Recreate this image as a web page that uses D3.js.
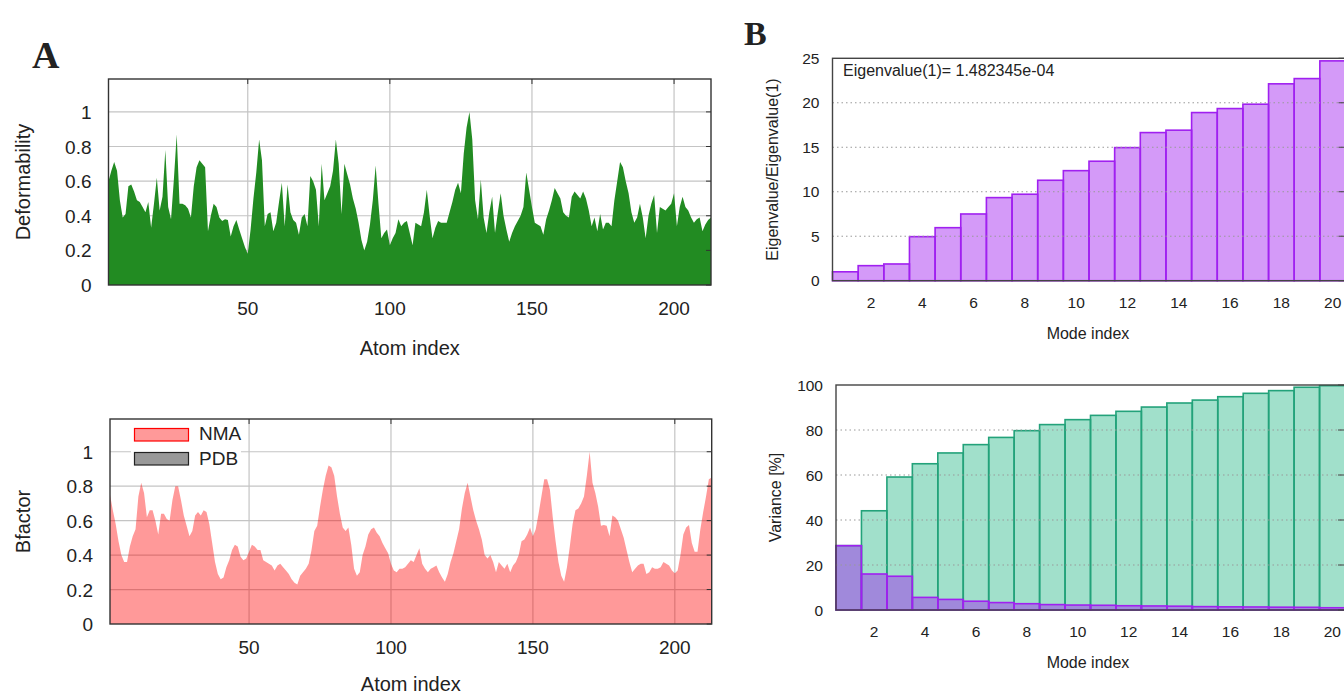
<!DOCTYPE html>
<html>
<head>
<meta charset="utf-8">
<script src="https://cdn.jsdelivr.net/npm/d3@7"></script>
<style>
body { margin: 0; background: #fff; }
svg text { font-family: "Liberation Sans", Arial, sans-serif; fill: #222; }
</style>
</head>
<body>
<svg id="chart" width="1344" height="696"></svg>
<script>
// ---- panel A data (one value per atom, index 1..213)
var deformability = [
  0.60, 0.66, 0.71, 0.66, 0.49, 0.39, 0.41, 0.57, 0.58, 0.54,
  0.49, 0.48, 0.45, 0.42, 0.48, 0.33, 0.47, 0.62, 0.43, 0.51,
  0.78, 0.45, 0.38, 0.61, 0.87, 0.47, 0.47, 0.46, 0.44, 0.39,
  0.57, 0.68, 0.72, 0.70, 0.68, 0.31, 0.40, 0.47, 0.45, 0.39,
  0.37, 0.38, 0.375, 0.28, 0.34, 0.375, 0.32, 0.27, 0.22, 0.18,
  0.32, 0.50, 0.65, 0.84, 0.72, 0.34, 0.41, 0.42, 0.31, 0.36,
  0.48, 0.59, 0.34, 0.58, 0.42, 0.375, 0.36, 0.29, 0.39, 0.41,
  0.34, 0.63, 0.60, 0.55, 0.34, 0.70, 0.49, 0.53, 0.57, 0.66,
  0.84, 0.70, 0.41, 0.70, 0.64, 0.58, 0.50, 0.44, 0.36, 0.26,
  0.20, 0.25, 0.35, 0.49, 0.69, 0.47, 0.27, 0.30, 0.32, 0.23,
  0.27, 0.30, 0.38, 0.34, 0.36, 0.37, 0.30, 0.23, 0.36, 0.35,
  0.34, 0.42, 0.55, 0.40, 0.27, 0.33, 0.37, 0.36, 0.36, 0.36,
  0.42, 0.48, 0.55, 0.59, 0.53, 0.76, 0.91, 1.00, 0.84, 0.49,
  0.38, 0.61, 0.39, 0.30, 0.42, 0.51, 0.30, 0.42, 0.53, 0.40,
  0.32, 0.25, 0.30, 0.34, 0.37, 0.40, 0.45, 0.65, 0.55, 0.45,
  0.36, 0.35, 0.34, 0.29, 0.38, 0.43, 0.49, 0.56, 0.53, 0.50,
  0.42, 0.40, 0.39, 0.51, 0.54, 0.52, 0.50, 0.54, 0.50, 0.43,
  0.34, 0.39, 0.31, 0.41, 0.32, 0.36, 0.36, 0.34, 0.49, 0.60,
  0.71, 0.68, 0.60, 0.53, 0.42, 0.36, 0.39, 0.47, 0.39, 0.27,
  0.40, 0.47, 0.52, 0.30, 0.45, 0.44, 0.43, 0.45, 0.47, 0.53,
  0.34, 0.45, 0.51, 0.45, 0.43, 0.39, 0.36, 0.38, 0.39, 0.31,
  0.35, 0.375, 0.39
];

var bfactorNMA = [
  0.75, 0.66, 0.58, 0.48, 0.40, 0.36, 0.36, 0.45, 0.51, 0.55,
  0.74, 0.82, 0.76, 0.62, 0.66, 0.66, 0.60, 0.52, 0.64, 0.64,
  0.61, 0.60, 0.72, 0.80, 0.80, 0.72, 0.63, 0.57, 0.51, 0.54,
  0.63, 0.65, 0.63, 0.66, 0.65, 0.58, 0.47, 0.36, 0.29, 0.26,
  0.27, 0.33, 0.37, 0.43, 0.46, 0.45, 0.39, 0.37, 0.38, 0.42,
  0.46, 0.45, 0.43, 0.43, 0.37, 0.36, 0.35, 0.34, 0.31, 0.34,
  0.35, 0.33, 0.31, 0.29, 0.26, 0.24, 0.23, 0.28, 0.30, 0.32,
  0.35, 0.43, 0.54, 0.57, 0.68, 0.78, 0.86, 0.92, 0.91, 0.86,
  0.74, 0.64, 0.56, 0.54, 0.56, 0.46, 0.32, 0.28, 0.30, 0.40,
  0.45, 0.52, 0.55, 0.56, 0.53, 0.51, 0.47, 0.44, 0.41, 0.35,
  0.31, 0.30, 0.32, 0.32, 0.33, 0.35, 0.37, 0.36, 0.40, 0.44,
  0.35, 0.32, 0.30, 0.32, 0.33, 0.34, 0.30, 0.27, 0.245, 0.29,
  0.36, 0.41, 0.48, 0.55, 0.67, 0.76, 0.82, 0.74, 0.66, 0.60,
  0.55, 0.49, 0.40, 0.38, 0.40, 0.36, 0.30, 0.36, 0.34, 0.32,
  0.35, 0.30, 0.34, 0.36, 0.40, 0.48, 0.49, 0.52, 0.56, 0.51,
  0.55, 0.64, 0.74, 0.84, 0.84, 0.78, 0.62, 0.48, 0.36, 0.28,
  0.245, 0.33, 0.45, 0.58, 0.66, 0.67, 0.70, 0.74, 0.86, 1.00,
  0.82, 0.76, 0.68, 0.57, 0.575, 0.57, 0.51, 0.63, 0.62, 0.60,
  0.55, 0.50, 0.43, 0.36, 0.30, 0.32, 0.34, 0.35, 0.35, 0.29,
  0.30, 0.33, 0.32, 0.32, 0.33, 0.36, 0.35, 0.34, 0.31, 0.295,
  0.31, 0.40, 0.52, 0.56, 0.575, 0.47, 0.42, 0.42, 0.55, 0.65,
  0.74, 0.84, 0.85
];

var atomTicks = [50, 100, 150, 200];
var unitTicks = [0, 0.2, 0.4, 0.6, 0.8, 1];

// ---- panel B data
var modeIndex = [1, 2, 3, 4, 5, 6, 7, 8, 9, 10, 11, 12, 13, 14, 15, 16, 17, 18, 19, 20];
var eigenRatio = [1.0, 1.69, 1.88, 4.95, 5.96, 7.5, 9.34, 9.72, 11.29, 12.37,
                  13.43, 14.96, 16.65, 16.92, 18.9, 19.35, 19.84, 22.13, 22.72, 24.71];
var varianceIndividual = [28.6, 16.0, 15.0, 5.6, 4.7, 3.9, 3.3, 2.8, 2.4, 2.2,
                          2.1, 1.9, 1.8, 1.7, 1.5, 1.4, 1.35, 1.25, 1.2, 1.0];
var varianceCumulative = [28.6, 44.1, 59.1, 65.0, 69.8, 73.5, 76.7, 79.7, 82.4, 84.6,
                          86.5, 88.3, 90.2, 92.0, 93.3, 94.8, 96.3, 97.5, 99.0, 99.7];
var modeTicks = [2, 4, 6, 8, 10, 12, 14, 16, 18, 20];
var eigenTicks = [0, 5, 10, 15, 20, 25];
var varianceTicks = [0, 20, 40, 60, 80, 100];

var svg = d3.select("#chart");

function drawProfile(values, box, fill, opacity, ylabel) {
  var x = d3.scaleLinear().domain([1, 213]).range([box.left, box.right]);
  var y = d3.scaleLinear().domain([0, 1.19]).range([box.bottom, box.top]);
  var g = svg.append("g");

  // grid
  g.selectAll(".hgrid").data(unitTicks.slice(1)).join("line")
    .attr("x1", box.left).attr("x2", box.right)
    .attr("y1", function(d) { return y(d); }).attr("y2", function(d) { return y(d); })
    .attr("stroke", "#c4c4c4").attr("stroke-width", 1.2);
  g.selectAll(".vgrid").data(atomTicks).join("line")
    .attr("y1", box.top).attr("y2", box.bottom)
    .attr("x1", function(d) { return x(d); }).attr("x2", function(d) { return x(d); })
    .attr("stroke", "#c4c4c4").attr("stroke-width", 1.2);

  // area
  g.append("path")
    .datum(values)
    .attr("fill", fill)
    .attr("fill-opacity", opacity)
    .attr("d", d3.area()
      .x(function(d, i) { return x(i + 1); })
      .y0(y(0))
      .y1(function(d) { return y(d); }));

  // inner ticks on top / right
  g.selectAll(".tt").data(atomTicks).join("line")
    .attr("x1", function(d) { return x(d); }).attr("x2", function(d) { return x(d); })
    .attr("y1", box.top).attr("y2", box.top + 5)
    .attr("stroke", "#333");
  g.selectAll(".rt").data(unitTicks).join("line")
    .attr("x1", box.right - 5).attr("x2", box.right)
    .attr("y1", function(d) { return y(d); }).attr("y2", function(d) { return y(d); })
    .attr("stroke", "#333");

  // frame
  g.append("rect")
    .attr("x", box.left).attr("y", box.top)
    .attr("width", box.right - box.left).attr("height", box.bottom - box.top)
    .attr("fill", "none").attr("stroke", "#333").attr("stroke-width", 1.4);

  // tick labels
  g.selectAll(".yl").data(unitTicks).join("text")
    .attr("x", box.left - 17)
    .attr("y", function(d) { return y(d) + 7; })
    .attr("text-anchor", "end")
    .style("font-size", "19px")
    .text(d3.format("~g"));
  g.selectAll(".xl").data(atomTicks).join("text")
    .attr("x", function(d) { return x(d); })
    .attr("y", box.bottom + 30)
    .attr("text-anchor", "middle")
    .style("font-size", "19px")
    .text(function(d) { return d; });

  g.append("text")
    .attr("x", (box.left + box.right) / 2)
    .attr("y", box.bottom + box.titleGap)
    .attr("text-anchor", "middle")
    .style("font-size", "20px")
    .text("Atom index");
  g.append("text")
    .attr("transform", "translate(30," + ((box.top + box.bottom) / 2) + ") rotate(-90)")
    .attr("text-anchor", "middle")
    .style("font-size", "20px")
    .text(ylabel);
  return g;
}

function drawBarFrame(box, y, ticks, x, ylabel) {
  var g = svg.append("g");
  g.selectAll(".grid").data(ticks.slice(1, -1)).join("line")
    .attr("x1", box.left).attr("x2", box.right)
    .attr("y1", function(d) { return y(d); }).attr("y2", function(d) { return y(d); })
    .attr("stroke", "#999").attr("stroke-width", 1)
    .attr("stroke-dasharray", "1.5,3");
  g.selectAll(".rt").data(ticks).join("line")
    .attr("x1", box.right - 7).attr("x2", box.right)
    .attr("y1", function(d) { return y(d); }).attr("y2", function(d) { return y(d); })
    .attr("stroke", "#444");
  g.append("rect")
    .attr("x", box.left).attr("y", box.top)
    .attr("width", box.right - box.left).attr("height", box.bottom - box.top)
    .attr("fill", "none").attr("stroke", "#444").attr("stroke-width", 1.4);
  g.selectAll(".yl").data(ticks).join("text")
    .attr("x", box.left - 13)
    .attr("y", function(d) { return y(d) + 5.5; })
    .attr("text-anchor", "end")
    .style("font-size", "15.5px")
    .text(function(d) { return d; });
  g.selectAll(".xl").data(modeTicks).join("text")
    .attr("x", function(d) { return x(d); })
    .attr("y", box.bottom + 27)
    .attr("text-anchor", "middle")
    .style("font-size", "15.5px")
    .text(function(d) { return d; });
  g.append("text")
    .attr("x", 1088)
    .attr("y", box.bottom + 58)
    .attr("text-anchor", "middle")
    .style("font-size", "16px")
    .text("Mode index");
  g.append("text")
    .attr("transform", "translate(" + (box.left - 55) + "," + ((box.top + box.bottom) / 2) + ") rotate(-90)")
    .attr("text-anchor", "middle")
    .style("font-size", "16px")
    .text(ylabel);
  return g;
}

function drawBars(data, x, y, fill, opacity, stroke) {
  svg.append("g").selectAll("rect").data(data).join("rect")
    .attr("x", function(d, i) { return x(modeIndex[i] - 0.5); })
    .attr("width", function(d, i) { return x(modeIndex[i] + 0.5) - x(modeIndex[i] - 0.5); })
    .attr("y", function(d) { return y(d); })
    .attr("height", function(d) { return y(0) - y(d); })
    .attr("fill", fill).attr("fill-opacity", opacity)
    .attr("stroke", stroke).attr("stroke-width", 1.6);
}

// ---- A: deformability
drawProfile(deformability, {left: 108.5, right: 711, top: 79, bottom: 285, titleGap: 70}, "#228b22", 1, "Deformability");

// ---- A: bfactor
var bf = drawProfile(bfactorNMA, {left: 110, right: 711.7, top: 419, bottom: 624, titleGap: 67}, "#ff0000", 0.4, "Bfactor");
var legend = bf.append("g");
legend.append("rect").attr("x", 131).attr("y", 423).attr("width", 110).attr("height", 47).attr("fill", "#fff");
legend.append("rect").attr("x", 134.5).attr("y", 428.5).attr("width", 54).attr("height", 12.5)
  .attr("fill", "#ff9999").attr("stroke", "#ff0000").attr("stroke-width", 1.2);
legend.append("rect").attr("x", 134.5).attr("y", 452.5).attr("width", 54).attr("height", 12.5)
  .attr("fill", "#999").attr("stroke", "#222").attr("stroke-width", 1.2);
legend.append("text").attr("x", 199).attr("y", 440).style("font-size", "19px").text("NMA");
legend.append("text").attr("x", 199).attr("y", 465).style("font-size", "19px").text("PDB");

// ---- B: eigenvalues
var eBox = {left: 832.5, right: 1345.5, top: 58.3, bottom: 280.7};
var xe = d3.scaleLinear().domain([0.5, 20.5]).range([eBox.left, eBox.right]);
var ye = d3.scaleLinear().domain([0, 25]).range([eBox.bottom, eBox.top]);
drawBars(eigenRatio, xe, ye, "#a020f0", 0.45, "#a020f0");
drawBarFrame(eBox, ye, eigenTicks, xe, "Eigenvalue/Eigenvalue(1)");
svg.append("text").attr("x", 843).attr("y", 76)
  .style("font-size", "16px")
  .text("Eigenvalue(1)= 1.482345e-04");

// ---- B: variance
var vBox = {left: 836, right: 1345, top: 385, bottom: 610};
var xv = d3.scaleLinear().domain([0.5, 20.5]).range([vBox.left, vBox.right]);
var yv = d3.scaleLinear().domain([0, 100]).range([vBox.bottom, vBox.top]);
drawBars(varianceCumulative, xv, yv, "#1eb482", 0.42, "#23a27a");
drawBars(varianceIndividual, xv, yv, "#a020f0", 0.45, "#a020f0");
drawBarFrame(vBox, yv, varianceTicks, xv, "Variance [%]");

// panel letters
svg.append("text").attr("x", 32).attr("y", 68)
  .style("font-family", "'Liberation Serif', 'Times New Roman', serif")
  .style("font-weight", "bold").style("font-size", "38px").text("A");
svg.append("text").attr("x", 744).attr("y", 45)
  .style("font-family", "'Liberation Serif', 'Times New Roman', serif")
  .style("font-weight", "bold").style("font-size", "34px").text("B");
</script>
</body>
</html>
